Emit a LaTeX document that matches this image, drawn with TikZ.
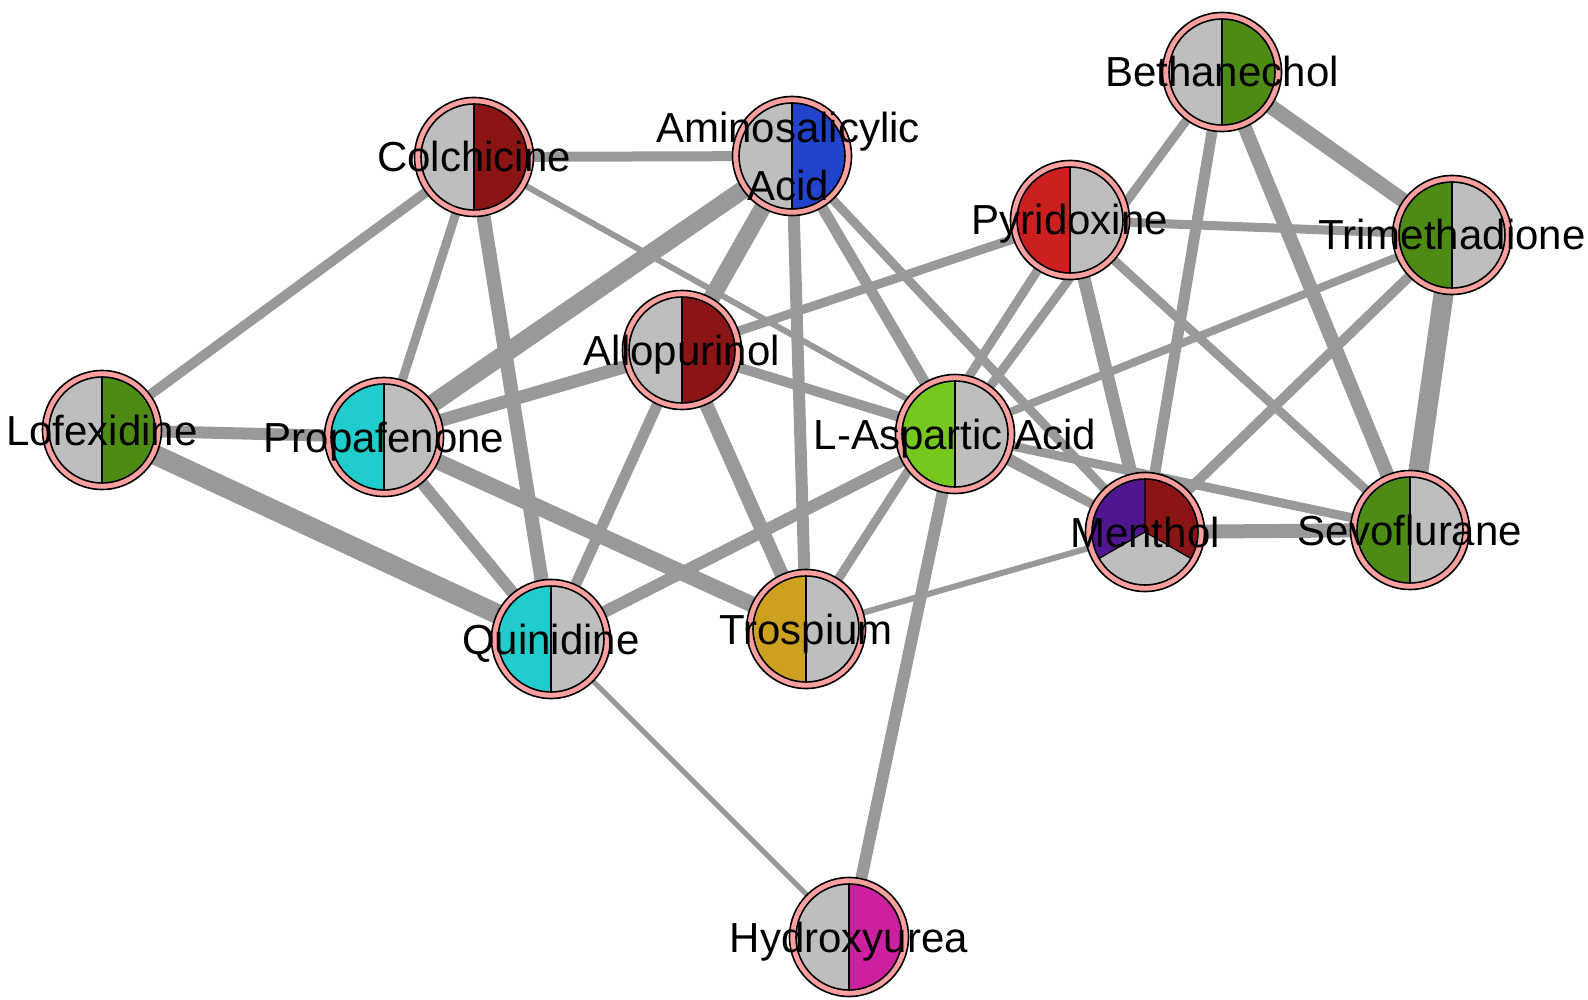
\documentclass[tikz,border=0pt]{standalone}
\usepackage{fontspec}
\setmainfont{Liberation Sans}
\usetikzlibrary{backgrounds}
\definecolor{edgegray}{RGB}{153,153,153}
\definecolor{pgray}{RGB}{190,190,190}
\definecolor{ring}{RGB}{255,160,160}
\definecolor{darkred}{RGB}{139,21,21}
\definecolor{pblue}{RGB}{34,68,204}
\definecolor{pgreen}{RGB}{78,139,20}
\definecolor{pred}{RGB}{204,32,32}
\definecolor{pcyan}{RGB}{32,204,204}
\definecolor{plime}{RGB}{118,200,30}
\definecolor{ppurple}{RGB}{80,22,144}
\definecolor{pgold}{RGB}{205,160,32}
\definecolor{pmagenta}{RGB}{205,32,160}
\begin{document}
\begin{tikzpicture}[x=1pt, y=-1pt,
  drug/.style={circle, draw=black, line width=1.6pt, fill=ring, minimum size=119pt, inner sep=0pt},
  link/.style={draw=edgegray, shorten <=-6pt, shorten >=-6pt},
  lab/.style={font=\fontsize{42}{58}\selectfont, anchor=base, yshift=-15pt}]
\useasboundingbox (0,0) rectangle (1588,1000);

\node[drug] (col) at (474,157) {};
\node[drug] (amino) at (792,156) {};
\node[drug] (beth) at (1222,72) {};
\node[drug] (pyr) at (1070,220) {};
\node[drug] (trim) at (1452,235) {};
\node[drug] (allo) at (682,350) {};
\node[drug] (lof) at (102,430) {};
\node[drug] (prop) at (384,437) {};
\node[drug] (lasp) at (955,434) {};
\node[drug] (men) at (1145,532) {};
\node[drug] (sevo) at (1410,530) {};
\node[drug] (quin) at (551,639) {};
\node[drug] (tros) at (806,629) {};
\node[drug] (hyd) at (849,937) {};

\begin{scope}[on background layer]
  \draw[link, line width=10] (col) -- (amino);
  \draw[link, line width=10] (col) -- (lof);
  \draw[link, line width=9] (col) -- (prop);
  \draw[link, line width=14] (col) -- (quin);
  \draw[link, line width=6] (col) -- (men);
  \draw[link, line width=18] (amino) -- (prop);
  \draw[link, line width=17] (amino) -- (allo);
  \draw[link, line width=12] (amino) -- (tros);
  \draw[link, line width=11] (amino) -- (lasp);
  \draw[link, line width=9] (amino) -- (men);
  \draw[link, line width=9] (beth) -- (lasp);
  \draw[link, line width=15] (beth) -- (trim);
  \draw[link, line width=11] (beth) -- (men);
  \draw[link, line width=14] (beth) -- (sevo);
  \draw[link, line width=9] (pyr) -- (trim);
  \draw[link, line width=9] (pyr) -- (allo);
  \draw[link, line width=9] (pyr) -- (tros);
  \draw[link, line width=13] (pyr) -- (men);
  \draw[link, line width=9] (pyr) -- (sevo);
  \draw[link, line width=8] (trim) -- (lasp);
  \draw[link, line width=10] (trim) -- (men);
  \draw[link, line width=20] (trim) -- (sevo);
  \draw[link, line width=13] (allo) -- (prop);
  \draw[link, line width=11] (allo) -- (quin);
  \draw[link, line width=14] (allo) -- (tros);
  \draw[link, line width=10] (allo) -- (lasp);
  \draw[link, line width=12] (lof) -- (prop);
  \draw[link, line width=20] (lof) -- (quin);
  \draw[link, line width=12] (prop) -- (quin);
  \draw[link, line width=16] (prop) -- (tros);
  \draw[link, line width=12] (quin) -- (lasp);
  \draw[link, line width=5] (quin) -- (hyd);
  \draw[link, line width=6] (tros) -- (men);
  \draw[link, line width=12] (lasp) -- (hyd);
  \draw[link, line width=8] (lasp) -- (men);
  \draw[link, line width=9] (lasp) -- (sevo);
  \draw[link, line width=14] (men) -- (sevo);
\end{scope}

% two-slice pies: left half, right half
\foreach \n/\l/\r in {col/pgray/darkred, amino/pgray/pblue, beth/pgray/pgreen,
    pyr/pred/pgray, trim/pgreen/pgray, allo/pgray/darkred, lof/pgray/pgreen,
    prop/pcyan/pgray, lasp/plime/pgray, sevo/pgreen/pgray, quin/pcyan/pgray,
    tros/pgold/pgray, hyd/pgray/pmagenta} {
  \fill[\l] (\n.center) -- ++(90:53pt) arc[start angle=90, end angle=270, radius=53pt] -- cycle;
  \fill[\r] (\n.center) -- ++(-90:53pt) arc[start angle=-90, end angle=90, radius=53pt] -- cycle;
  \draw[line width=1.6pt] (\n.center) circle[radius=53pt];
  \draw[line width=1.2pt] (\n.center) ++(90:53pt) -- ++(0pt,-106pt);
}

% menthol has three slices
\fill[ppurple] (men.center) -- ++(90:53pt) arc[start angle=90, end angle=210, radius=53pt] -- cycle;
\fill[pgray] (men.center) -- ++(210:53pt) arc[start angle=210, end angle=330, radius=53pt] -- cycle;
\fill[darkred] (men.center) -- ++(330:53pt) arc[start angle=330, end angle=450, radius=53pt] -- cycle;
\draw[line width=1.6pt] (men.center) circle[radius=53pt];
\draw[line width=1.2pt] (men.center) -- ++(90:53pt) (men.center) -- ++(210:53pt) (men.center) -- ++(330:53pt);

\node[lab] (collab) at (col) {Colchicine};
\node[font=\fontsize{42}{58}\selectfont, align=center, xshift=-4pt] (aminolab) at (amino) {Aminosalicylic\\Acid};
\node[lab] (bethlab) at (beth) {Bethanechol};
\node[lab] (pyrlab) at (pyr) {Pyridoxine};
\node[lab] (trimlab) at (trim) {Trimethadione};
\node[lab] (allolab) at (allo) {Allopurinol};
\node[lab] (loflab) at (lof) {Lofexidine};
\node[lab] (proplab) at (prop) {Propafenone};
\node[lab] (lasplab) at (lasp) {L-Aspartic Acid};
\node[lab] (menlab) at (men) {Menthol};
\node[lab] (sevolab) at (sevo) {Sevoflurane};
\node[lab] (quinlab) at (quin) {Quinidine};
\node[lab] (troslab) at (tros) {Trospium};
\node[lab] (hydlab) at (hyd) {Hydroxyurea};
\end{tikzpicture}
\end{document}
